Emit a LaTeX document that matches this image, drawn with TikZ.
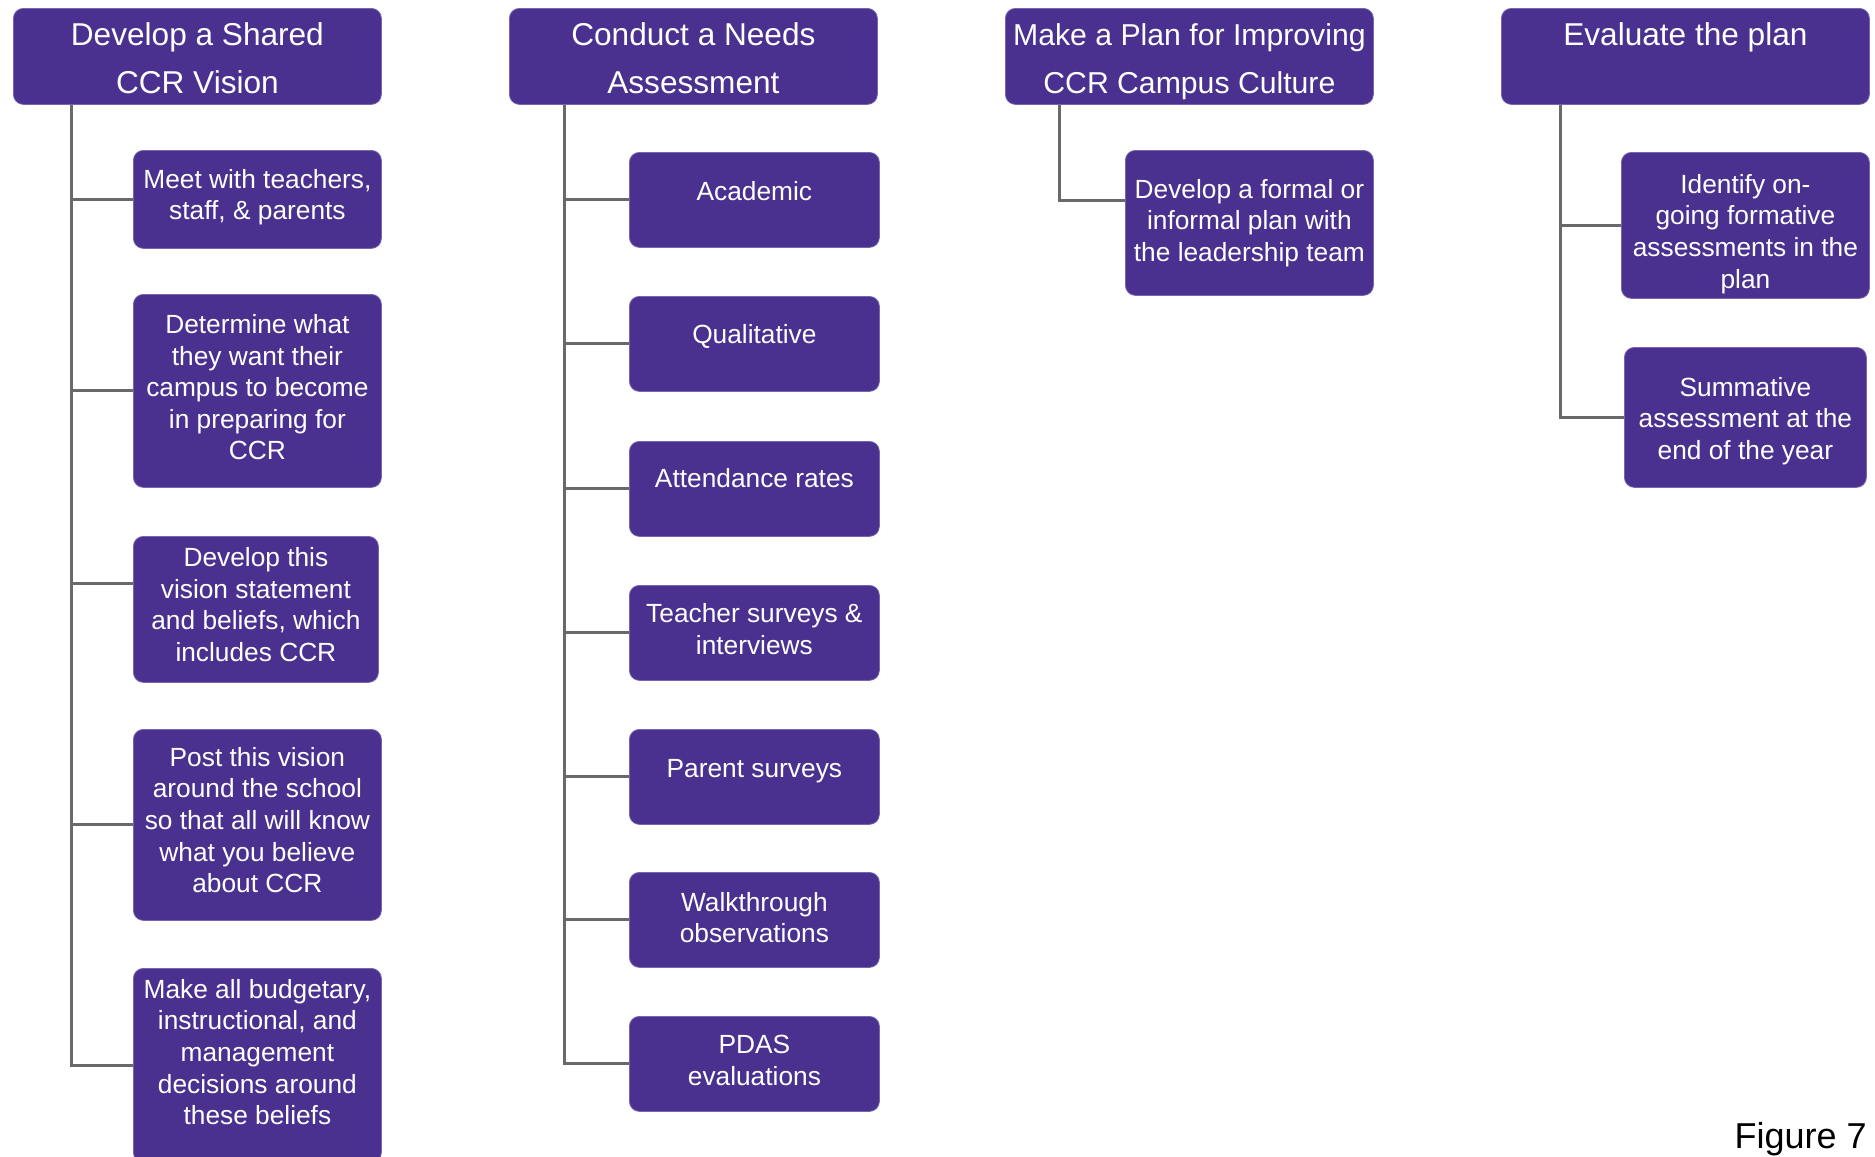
\documentclass[tikz,border=0pt]{standalone}
\usepackage{fontspec}
\setmainfont{Liberation Sans}
\definecolor{ccrpurple}{RGB}{75,49,143}
\definecolor{ccredge}{RGB}{120,100,175}
\definecolor{conngray}{RGB}{105,105,105}
% centred lines of text, lifted by #1 without changing the box size
\newcommand\tlines[2]{\raisebox{#1}[\height][\depth]{\begin{tabular}{@{}c@{}}#2\end{tabular}}}
\newcommand\hdtext[1]{\tlines{-1.7pt}{#1}}
\newcommand\sbtext[2][1.5pt]{\tlines{#1}{#2}}
\tikzset{
  card/.style={rectangle, rounded corners=5pt, fill=ccrpurple, draw=ccredge,
    line width=0.4pt, inner sep=0pt, anchor=north west, text=white},
  hdr/.style={card, minimum width=184pt, minimum height=47.5pt,
    font=\fontsize{15.8}{24}\selectfont},
  sub/.style={card, minimum width=125pt, minimum height=47.5pt,
    font=\fontsize{13.15}{15.8}\selectfont},
  conn/.style={draw=conngray, line width=1.5pt},
}
\begin{document}
\begin{tikzpicture}[x=0.5pt, y=-0.5pt]
\useasboundingbox (0,0) rectangle (1875,1157);

% column headers
\node[hdr] (h1) at (13,8)   {\hdtext{Develop a Shared\\CCR Vision}};
\node[hdr] (h2) at (509,8)  {\hdtext{Conduct a Needs\\Assessment}};
\node[hdr, font=\fontsize{15.1}{24}\selectfont] (h3) at (1005,8) {\hdtext{Make a Plan for Improving\\CCR Campus Culture}};
\node[hdr] (h4) at (1501,8) {\hdtext{Evaluate the plan\\ \mbox{}}};

% shared vision steps
\node[sub, minimum width=124pt, minimum height=49pt]   (c11) at (133,150) {\sbtext[0.9pt]{Meet with teachers,\\staff, \& parents}};
\node[sub, minimum width=124pt, minimum height=96.5pt] (c12) at (133,294) {\sbtext[0.3pt]{Determine what\\they want their\\campus to become\\in preparing for\\CCR}};
\node[sub, minimum width=122.5pt, minimum height=73pt] (c13) at (133,536) {\sbtext[0.9pt]{Develop this\\vision statement\\and beliefs, which\\includes CCR}};
\node[sub, minimum width=124pt, minimum height=95.5pt] (c14) at (133,729) {\sbtext[0.9pt]{Post this vision\\around the school\\so that all will know\\what you believe\\about CCR}};
\node[sub, minimum width=124pt, minimum height=97pt]   (c15) at (133,968) {\sbtext[5.1pt]{Make all budgetary,\\instructional, and\\management\\decisions around\\these beliefs}};

% needs assessment sources
\node[sub] (c21) at (629,152)  {\sbtext[2.7pt]{Academic}};
\node[sub] (c22) at (629,296)  {\sbtext[3.3pt]{Qualitative}};
\node[sub] (c23) at (629,441)  {\sbtext[3.9pt]{Attendance rates}};
\node[sub] (c24) at (629,585)  {\sbtext[0.3pt]{Teacher surveys \&\\interviews}};
\node[sub] (c25) at (629,729)  {\sbtext[2.7pt]{Parent surveys}};
\node[sub] (c26) at (629,872)  {\sbtext[-0.3pt]{Walkthrough\\observations}};
\node[sub] (c27) at (629,1016) {\sbtext[0.3pt]{PDAS\\evaluations}};

% plan
\node[sub, minimum width=124pt, minimum height=72.5pt] (c31) at (1125,150) {\sbtext[-0.3pt]{Develop a formal or\\informal plan with\\the leadership team}};

% evaluation
\node[sub, minimum width=124pt, minimum height=73pt] (c41) at (1621,152) {\sbtext[-4.5pt]{Identify on-\\going formative\\assessments in the\\plan}};
\node[sub, minimum width=121pt, minimum height=70pt] (c42) at (1624,347) {\sbtext[-2.1pt]{Summative\\assessment at the\\end of the year}};

% trunks hanging from each header
\coordinate (t1) at ([xshift=29pt]h1.south west);
\coordinate (t2) at ([xshift=27.5pt]h2.south west);
\coordinate (t3) at ([xshift=27pt]h3.south west);
\coordinate (t4) at ([xshift=29.5pt]h4.south west);

% branch ends that sit above a box's middle
\coordinate (e13) at ([yshift=13pt]c13.west);
\coordinate (e31) at ([yshift=11.25pt]c31.west);

\draw[conn] (t1) |- (c15.west);
\foreach \c in {c11,c12,c14} \draw[conn] (t1 |- \c.west) -- (\c.west);
\draw[conn] (t1 |- e13) -- (e13);

\draw[conn] (t2) |- (c27.west);
\foreach \c in {c21,c22,c23,c24,c25,c26} \draw[conn] (t2 |- \c.west) -- (\c.west);

\draw[conn] (t3) |- (e31);

\draw[conn] (t4) |- (c42.west);
\draw[conn] (t4 |- c41.west) -- (c41.west);

% caption
\node[anchor=base east, inner sep=0pt, font=\fontsize{18}{20}\selectfont] (fig) at (1867,1148) {Figure 7};
\end{tikzpicture}
\end{document}
